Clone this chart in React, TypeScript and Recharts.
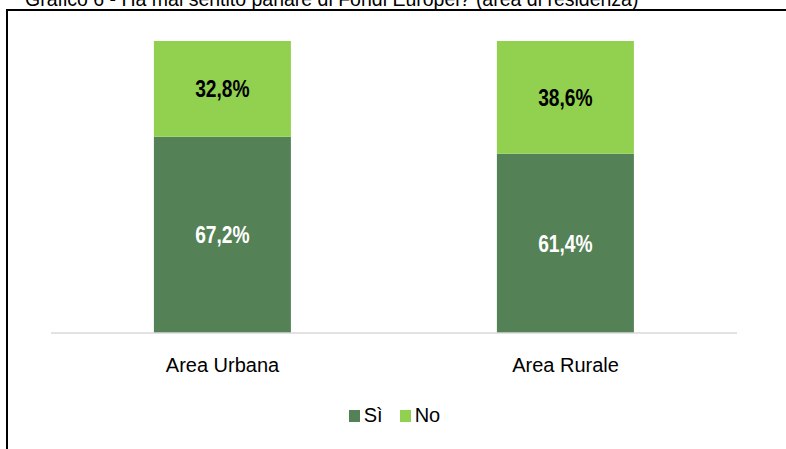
import { BarChart, Bar, XAxis, YAxis, Legend, LabelList } from "recharts";

const categories = ["Area Urbana", "Area Rurale"];
const siValues = [67.2, 61.4];
const noValues = [32.8, 38.6];
const seriesNames = { si: "Sì", no: "No" };
const legendOrder = [seriesNames.si, seriesNames.no];
const title = "Grafico 6 - Ha mai sentito parlare di Fondi Europei? (area di residenza)";

const data = categories.map((name, i) => ({ name, si: siValues[i], no: noValues[i] }));

const FONT = "'Liberation Sans', Arial, sans-serif";
const DARK = "#548155";
const LIGHT = "#92d050";

const fmt = (v: unknown) => `${Number(v).toFixed(1).replace(".", ",")}%`;

// narrow bold label, squeezed horizontally like Arial Narrow
const makeLabel = (color: string) => (props: any) => {
  const { x, y, width, height, value } = props;
  const cx = Number(x) + Number(width) / 2;
  const cy = Number(y) + Number(height) / 2;
  return (
    <text
      x={0}
      y={0}
      transform={`translate(${cx},${cy}) scale(0.8,1)`}
      textAnchor="middle"
      dominantBaseline="central"
      fill={color}
      fontFamily={FONT}
      fontWeight={700}
      fontSize={24}
    >
      {fmt(value)}
    </text>
  );
};

function renderLegend(props: any) {
  const items = [...(props.payload || [])].sort(
    (a: any, b: any) => legendOrder.indexOf(a.value) - legendOrder.indexOf(b.value)
  );
  return (
    <div style={{ display: "flex", justifyContent: "center", fontFamily: FONT, fontSize: 20, paddingLeft: 20 }}>
      {items.map((it: any) => (
        <span key={it.value} style={{ display: "inline-flex", alignItems: "center", marginRight: 17 }}>
          <span style={{ width: 11, height: 12, background: it.color, marginRight: 4, display: "inline-block" }} />
          <span style={{ color: "#000" }}>{it.value}</span>
        </span>
      ))}
    </div>
  );
}

export default function App() {
  return (
    <div style={{ position: "fixed", left: 0, top: 0, width: 786, height: 449, overflow: "hidden", background: "#fff" }}>
      <div
        style={{
          position: "absolute",
          left: 25,
          top: -10,
          fontFamily: FONT,
          fontSize: 19.5,
          lineHeight: "19px",
          whiteSpace: "nowrap",
          color: "#000",
        }}
      >
        {title}
      </div>
      <div
        style={{
          position: "absolute",
          left: 6,
          top: 9,
          width: 800,
          height: 460,
          borderLeft: "2px solid #000",
          borderTop: "2px solid #000",
        }}
      />
      <div style={{ position: "absolute", left: 0, top: 0 }}>
        <BarChart
          width={786}
          height={449}
          data={data}
          barCategoryGap="30%"
          margin={{ top: 41, right: 49, left: 51, bottom: 86 }}
        >
          <YAxis hide domain={[0, 100]} />
          <XAxis
            dataKey="name"
            height={30}
            axisLine={{ stroke: "#d9d9d9", strokeWidth: 1.5 }}
            tickLine={false}
            tickMargin={19}
            tick={{ fill: "#000", fontSize: 20, fontFamily: FONT }}
          />
          <Legend
            layout="horizontal"
            verticalAlign="middle"
            align="center"
            content={renderLegend}
            wrapperStyle={{ top: 404, left: 0, width: 786 }}
          />
          <Bar dataKey="si" name={seriesNames.si} stackId="a" fill={DARK} isAnimationActive={false}>
            <LabelList dataKey="si" content={makeLabel("#fff")} />
          </Bar>
          <Bar dataKey="no" name={seriesNames.no} stackId="a" fill={LIGHT} isAnimationActive={false}>
            <LabelList dataKey="no" content={makeLabel("#000")} />
          </Bar>
        </BarChart>
      </div>
    </div>
  );
}
